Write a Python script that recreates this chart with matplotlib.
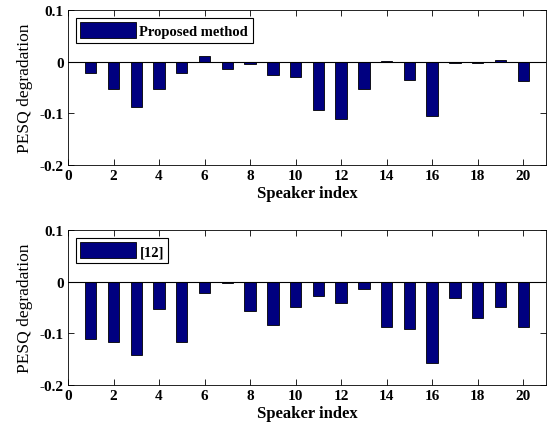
import matplotlib
matplotlib.use("Agg")
import matplotlib.pyplot as plt

# PESQ degradation per speaker
speakers = list(range(1, 21))
proposed = [-0.022, -0.052, -0.088, -0.052, -0.022, 0.011, -0.0135, -0.005, -0.026, -0.030,
            -0.094, -0.111, -0.052, 0.002, -0.035, -0.105, -0.003, -0.003, 0.004, -0.0365]
ref12 = [-0.111, -0.116, -0.142, -0.052, -0.116, -0.021, -0.003, -0.057, -0.084, -0.049,
         -0.028, -0.042, -0.015, -0.088, -0.091, -0.157, -0.032, -0.071, -0.049, -0.088]

xticks = [0, 2, 4, 6, 8, 10, 12, 14, 16, 18, 20]
yticks = [-0.2, -0.1, 0, 0.1]
ytick_labels = ['-0.2', '-0.1', '0', '0.1']

plt.rcParams['font.family'] = ['Liberation Serif', 'DejaVu Serif']
plt.rcParams['font.weight'] = 'bold'

fig = plt.figure(figsize=(5.57, 4.31), dpi=100)
W, H = 557, 431
ax1 = fig.add_axes([68 / W, 1 - 166 / H, 478 / W, 155 / H])
ax2 = fig.add_axes([68 / W, 1 - 386 / H, 478 / W, 155 / H])

for ax, vals, name in [(ax1, proposed, 'Proposed method'), (ax2, ref12, '[12]')]:
    ax.bar(speakers, vals, width=0.5, color='#000080', edgecolor='black',
           linewidth=0.6, label=name, zorder=2)
    ax.axhline(0, color='black', linewidth=0.8, zorder=3)
    ax.set_xlim(0, 21)
    ax.set_ylim(-0.2, 0.1)
    ax.set_xticks(xticks)
    ax.set_yticks(yticks)
    ax.set_yticklabels(ytick_labels)
    ax.tick_params(direction='in', top=True, right=True, labelsize=11,
                   length=4, width=0.6, pad=3)
    for s in ax.spines.values():
        s.set_linewidth(0.6)
    ax.set_xlabel('Speaker index', fontsize=12, fontweight='bold', labelpad=2)
    ax.set_ylabel('PESQ degradation', fontsize=12.5, fontweight='normal', labelpad=5)
    leg = ax.legend(loc='upper left', fontsize=10.5, fancybox=False, framealpha=1,
                    edgecolor='black', handlelength=3.8, handleheight=1.3,
                    borderpad=0.3, handletextpad=0.25, borderaxespad=0.55)
    leg.get_frame().set_linewidth(0.8)

fig.savefig('out.png', dpi=100, facecolor='white')
